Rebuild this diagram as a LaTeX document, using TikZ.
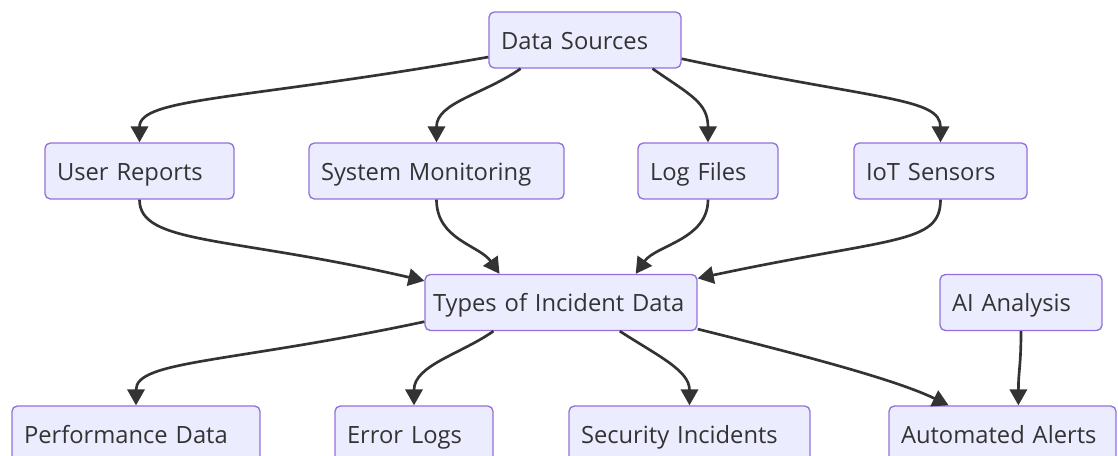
\documentclass[tikz,border=0pt]{standalone}
\usepackage{fontspec}
\setsansfont{Open Sans}
\usetikzlibrary{positioning,arrows.meta}
\definecolor{incFill}{RGB}{236,236,255}
\definecolor{incLine}{RGB}{147,112,219}
\definecolor{incText}{RGB}{51,51,51}
\tikzset{
    base/.style={font=\sffamily\fontsize{17.8}{21}\selectfont, align=left},
    box/.style={base, rectangle, rounded corners=4pt, draw=incLine, line width=1pt,
                fill=incFill, text=incText, minimum height=42pt, inner ysep=0pt,
                inner xsep=9pt, text width=#1, text height=17.5pt, text depth=3.3pt},
    flow/.style={-{Triangle[length=12pt,width=13pt]}, line width=2pt, color=incText}
}

\begin{document}
\begin{tikzpicture}[x=0.75pt, y=0.75pt]
  \useasboundingbox (0,0) rectangle (1118,456);
  \clip (0,0) rectangle (1118,456);

  \node[box=126pt] (src) at (585,416) {Data Sources};

  \node[box=123.75pt] (user) at (139.5,285) {User Reports};
  \node[box=173.25pt] (mon) at (436.5,285) {System Monitoring};
  \node[box=87pt] (logs) at (708,285) {Log Files};
  \node[box=111.75pt] (iot) at (940.5,285) {IoT Sensors};

  \node[box=192pt, inner xsep=6pt] (types) at (561,153.5) {Types of Incident Data};
  \node[box=103.5pt] (ai) at (1021,153.5) {AI Analysis};

  \node[box=168pt] (perf) at (136,22) {Performance Data};
  \node[box=100.5pt] (err) at (414,22) {Error Logs};
  \node[box=162.75pt] (sec) at (689.5,22) {Security Incidents};
  \node[box=152.25pt] (alerts) at (1002.5,22) {Automated Alerts};

  % sources
  \draw[flow] (src.190) .. controls +(190:250) and +(90:45) .. (user.north);
  \draw[flow] (src.204) .. controls +(215:45) and +(90:40) .. (mon.north);
  \draw[flow] (src.-23) .. controls +(-35:45) and +(90:40) .. (logs.north);
  \draw[flow] (src.-11) .. controls +(-12:200) and +(90:45) .. (iot.north);

  % into the incident types
  \draw[flow] (user.south) .. controls +(-90:45) and +(167:200) .. (types.171);
  \draw[flow] (mon.south) .. controls +(-90:40) and +(125:35) .. (types.155);
  \draw[flow] (logs.south) .. controls +(-90:40) and +(55:35) .. (types.21);
  \draw[flow] (iot.south) .. controls +(-90:45) and +(12:200) .. (types.10);

  % types of data
  \draw[flow] (types.188) .. controls +(192:200) and +(90:45) .. (perf.north);
  \draw[flow] (types.203) .. controls +(215:40) and +(90:40) .. (err.north);
  \draw[flow] (types.-26) .. controls +(-33:45) and +(90:35) .. (sec.north);
  \draw[flow] (types.-11) .. controls +(-14:100) and +(154:60) .. (alerts.152);
  \draw[flow] (ai.south) .. controls +(-90:35) and +(90:35) .. (alerts.61);
\end{tikzpicture}
\end{document}
